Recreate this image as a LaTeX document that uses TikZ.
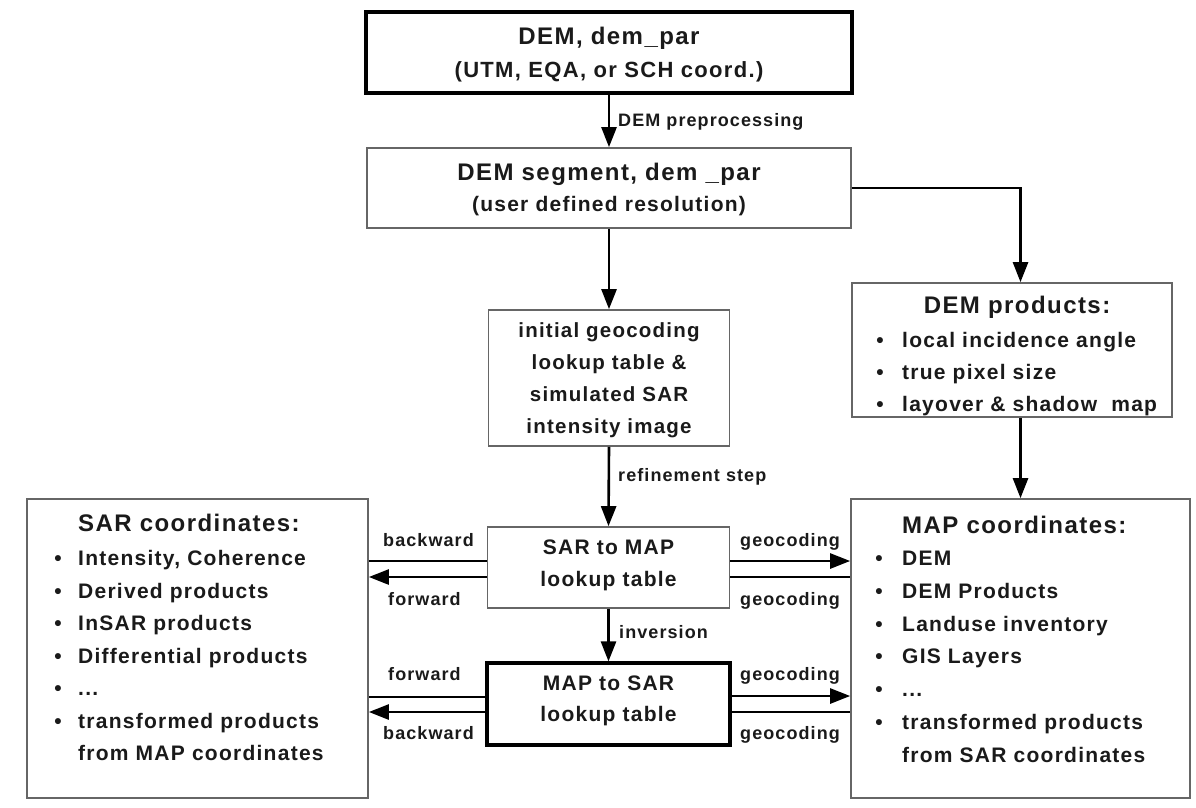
\documentclass[tikz,border=0pt]{standalone}
\usepackage{fontspec}
\setmainfont{Liberation Sans}[LetterSpace=6]
\usetikzlibrary{arrows.meta}
\definecolor{boxgray}{HTML}{666666}
\definecolor{ink}{HTML}{1A1A1A}
\newcommand{\threedots}{...}
\begin{document}
\begin{tikzpicture}[x=1pt,y=-1pt,
  every node/.style={inner sep=0pt, text=ink},
  box/.style={draw=boxgray, line width=1.7pt},
  thickbox/.style={draw=black, line width=3.2pt},
  arr/.style={draw=black, line width=2.6pt, -{Triangle[length=20pt,width=15pt]}},
  ln/.style={draw=black, line width=2.6pt},
  big/.style={font=\fontsize{24}{28}\selectfont\bfseries},
  mid/.style={font=\fontsize{21}{26}\selectfont\bfseries},
  sub/.style={font=\fontsize{22}{26}\selectfont\bfseries},
  elab/.style={font=\fontsize{18}{22}\selectfont\bfseries},
]
\useasboundingbox (0,0) rectangle (1196,807);
\fill[white] (0,0) rectangle (1196,807);

% boxes
\node[thickbox, minimum width=486, minimum height=81] (dem) at (609,52.5) {};
\node[box, minimum width=484, minimum height=80] (seg) at (609,188) {};
\node[box, minimum width=241, minimum height=136] (init) at (609,378) {};
\node[box, minimum width=242, minimum height=81] (s2m) at (608.5,567.5) {};
\node[thickbox, minimum width=243, minimum height=82] (m2s) at (608.5,704) {};
\node[box, minimum width=320, minimum height=134] (dprod) at (1012,350) {};
\node[box, minimum width=341, minimum height=299] (sarc) at (197.5,648.5) {};
\node[box, minimum width=339, minimum height=299] (mapc) at (1020.5,648.5) {};

% texts in center column
\node[big, anchor=base] (demt1) at (609,44.5) {DEM, dem\_par};
\node[sub, anchor=base] (demt2) at (609,77) {(UTM, EQA, or SCH coord.)};
\node[big, anchor=base] (segt1) at (609,180) {DEM segment, dem \_par};
\node[mid, anchor=base] (segt2) at (609,211) {(user defined resolution)};
\foreach \i/\t in {0/initial geocoding,1/lookup table \&,2/simulated SAR,3/intensity image}
  \node[font=\fontsize{20.5}{24}\selectfont\bfseries, anchor=base] (initt\i) at (609,337+32*\i) {\t};
\node[mid, anchor=base] (s2mt1) at (608.5,554) {SAR to MAP};
\node[mid, anchor=base] (s2mt2) at (608.5,586) {lookup table};
\node[mid, anchor=base] (m2st1) at (608.5,690) {MAP to SAR};
\node[mid, anchor=base] (m2st2) at (608.5,721) {lookup table};

% DEM products
\node[big, anchor=base] (dpt) at (1017,313.5) {DEM products:};
\foreach \i/\t in {0/local incidence angle,1/true pixel size,2/layover \& shadow\ \ map}{
  \node[mid, anchor=base] (dpb\i) at (880,347.5+32*\i) {•};
  \node[mid, anchor=base west] (dpl\i) at (902,347.5+32*\i) {\t};
}

% SAR coordinates
\node[big, anchor=base west] (sart) at (78,531) {SAR coordinates:};
\foreach \i/\t in {0/{Intensity, Coherence},1/Derived products,2/InSAR products,3/Differential products,4/\threedots,5/transformed products}{
  \node[mid, anchor=base] (sarb\i) at (58,565.5+32.5*\i) {•};
  \node[mid, anchor=base west] (sarl\i) at (78,565.5+32.5*\i) {\t};
}
\node[mid, anchor=base west] (sarl6) at (78,760.5) {from MAP coordinates};

% MAP coordinates
\node[big, anchor=base west] (mapt) at (902,533) {MAP coordinates:};
\foreach \i/\t in {0/DEM,1/DEM Products,2/Landuse inventory,3/GIS Layers,4/\threedots,5/transformed products}{
  \node[mid, anchor=base] (mapb\i) at (879,565.5+32.8*\i) {•};
  \node[mid, anchor=base west] (mapl\i) at (902,565.5+32.8*\i) {\t};
}
\node[mid, anchor=base west] (mapl6) at (902,762) {from SAR coordinates};

% vertical connectors
\draw[arr] (dem.south) -- (seg.north);
\draw[arr] (seg.south) -- (init.north);
\draw[arr] (init.south) -- (s2m.north);
\draw[arr] (s2m.south) -- (m2s.north);
\draw[arr] (seg.east) -| (dprod.north -| mapc.north);
\draw[arr] (dprod.south -| mapc.north) -- (mapc.north);

\node[elab, anchor=base west] (lpre) at (618,126.5) {DEM preprocessing};
\node[elab, anchor=base west] (lref) at (618,481.5) {refinement step};
\node[elab, anchor=base west] (linv) at (619,638) {inversion};

% horizontal connectors: SAR to MAP
\draw[ln] (s2m.west |- 0,561) -- (sarc.east |- 0,561);
\draw[arr] (s2m.west |- 0,577) -- (sarc.east |- 0,577);
\draw[arr] (s2m.east |- 0,561) -- (mapc.west |- 0,561);
\draw[ln] (s2m.east |- 0,577) -- (mapc.west |- 0,577);
% MAP to SAR
\draw[ln] (m2s.west |- 0,697) -- (sarc.east |- 0,697);
\draw[arr] (m2s.west |- 0,712) -- (sarc.east |- 0,712);
\draw[arr] (m2s.east |- 0,696) -- (mapc.west |- 0,696);
\draw[ln] (m2s.east |- 0,712) -- (mapc.west |- 0,712);

\node[elab, anchor=base west] (lb1) at (383,546.5) {backward};
\node[elab, anchor=base west] (lf1) at (388,605) {forward};
\node[elab, anchor=base west] (lg1) at (740,546.5) {geocoding};
\node[elab, anchor=base west] (lg2) at (740,605) {geocoding};
\node[elab, anchor=base west] (lf2) at (388,680) {forward};
\node[elab, anchor=base west] (lb2) at (383,739) {backward};
\node[elab, anchor=base west] (lg3) at (740,680) {geocoding};
\node[elab, anchor=base west] (lg4) at (740,739) {geocoding};
\end{tikzpicture}
\end{document}
